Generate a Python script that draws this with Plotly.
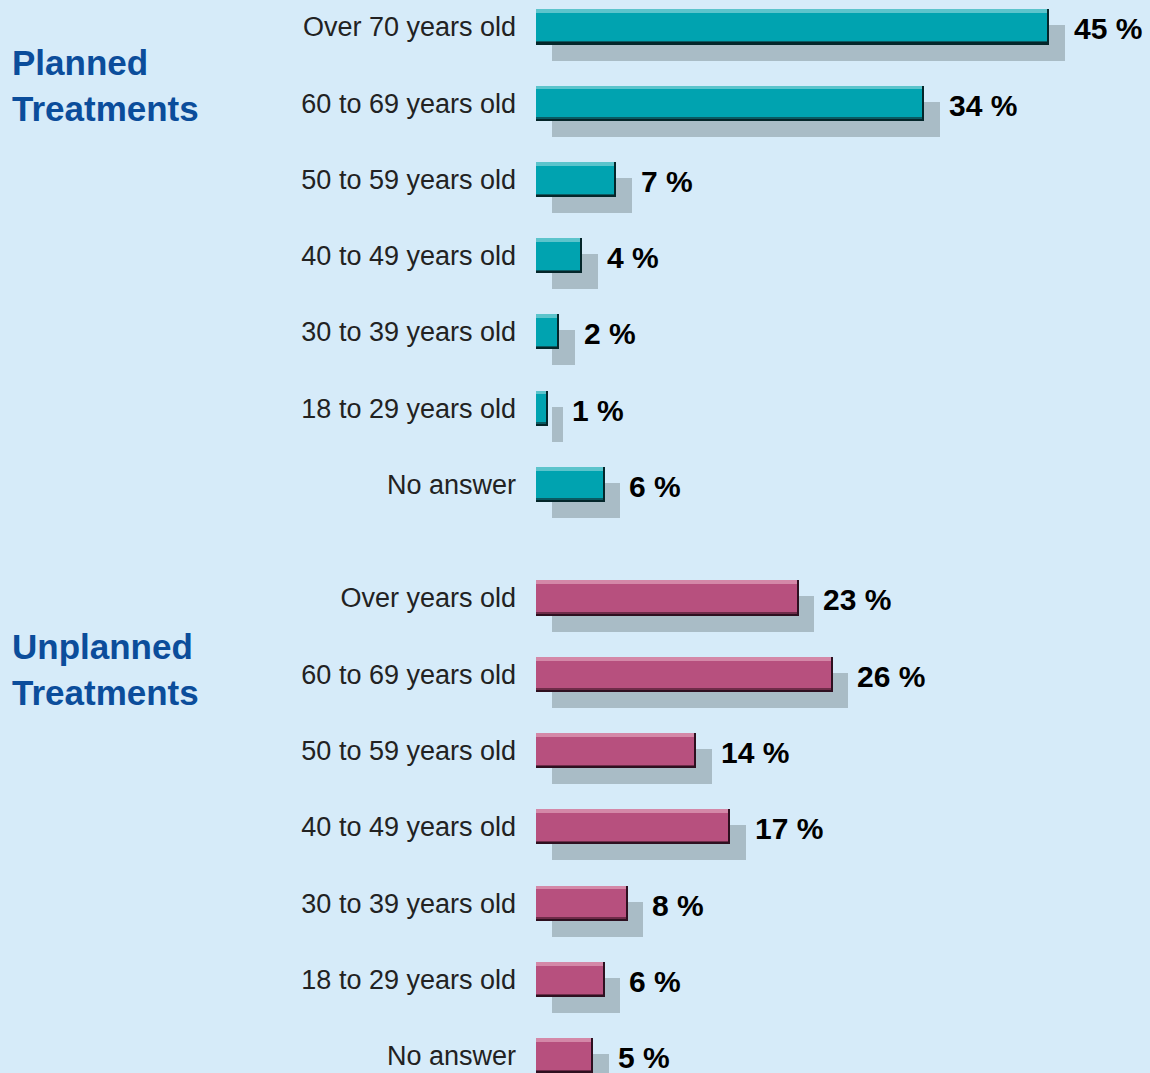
import plotly.graph_objects as go

# data
planned_labels = ["Over 70 years old", "60 to 69 years old", "50 to 59 years old",
                  "40 to 49 years old", "30 to 39 years old", "18 to 29 years old",
                  "No answer"]
planned_values = [45, 34, 7, 4, 2, 1, 6]

unplanned_labels = ["Over years old", "60 to 69 years old", "50 to 59 years old",
                    "40 to 49 years old", "30 to 39 years old", "18 to 29 years old",
                    "No answer"]
unplanned_values = [23, 26, 14, 17, 8, 6, 5]

group_titles = ["Planned<br>Treatments", "Unplanned<br>Treatments"]

W, H = 1150, 1073
BG = "#d6ebf9"
BAR_W = 0.46
SHADOW_DX = 1.4
SHADOW_DY = 0.21


def add_bars(fig, labels, values, xa, ya, color, light, dark, darker):
    kw = dict(orientation="h", y=labels, xaxis=xa, yaxis=ya,
              hoverinfo="skip", showlegend=False)
    # drop shadow
    fig.add_trace(go.Bar(x=values, base=SHADOW_DX, width=BAR_W,
                         offset=-BAR_W / 2 + SHADOW_DY,
                         marker=dict(color="#a9bcc6", line=dict(width=0)), **kw))
    # main bar
    fig.add_trace(go.Bar(x=values, width=BAR_W, offset=-BAR_W / 2,
                         marker=dict(color=color, line=dict(width=0)), **kw))
    # top highlight
    fig.add_trace(go.Bar(x=values, width=0.05, offset=-BAR_W / 2,
                         marker=dict(color=light, line=dict(width=0)), **kw))
    # bottom dark edge
    fig.add_trace(go.Bar(x=values, width=0.045, offset=BAR_W / 2 - 0.045,
                         marker=dict(color=dark, line=dict(width=0)), **kw))
    fig.add_trace(go.Bar(x=values, width=0.02, offset=BAR_W / 2 - 0.02,
                         marker=dict(color=darker, line=dict(width=0)), **kw))
    # right dark edge
    fig.add_trace(go.Bar(x=[0.1] * len(values), base=[v - 0.1 for v in values],
                         width=BAR_W, offset=-BAR_W / 2,
                         marker=dict(color=darker, line=dict(width=0)), **kw))


fig = go.Figure()
add_bars(fig, planned_labels, planned_values, "x", "y",
         "#00a3b0", "#5cc4cc", "#0a5a62", "#04262a")
add_bars(fig, unplanned_labels, unplanned_values, "x2", "y2",
         "#b7507e", "#d488a8", "#6e2c49", "#2e1020")

annotations = []
for labels, values, xr, yr in [(planned_labels, planned_values, "x", "y"),
                               (unplanned_labels, unplanned_values, "x2", "y2")]:
    for lab, v in zip(labels, values):
        annotations.append(dict(x=v, y=lab, xref=xr, yref=yr, text="%d %%" % v,
                                showarrow=False, xanchor="left", xshift=23, yshift=-2,
                                font=dict(family="Liberation Sans", size=30,
                                          color="#000000", weight="bold")))

for title, yc in zip(group_titles, [1 - 86 / H, 1 - 669 / H]):
    annotations.append(dict(x=10 / W, y=yc, xref="paper", yref="paper", text=title,
                            showarrow=False, xanchor="left", yanchor="middle",
                            align="left",
                            font=dict(family="Liberation Sans", size=35,
                                      color="#0b4d9b", weight="bold")))

x_dom = [536 / W, 1]
x_rng = [0, (W - 536) / 11.4]
yax = dict(type="category", showgrid=False, zeroline=False, showline=False,
           ticks="", ticklabelstandoff=19,
           tickfont=dict(family="Liberation Sans", size=27, color="#222222"))
xax = dict(domain=x_dom, range=x_rng, visible=False, fixedrange=True)

fig.update_layout(
    width=W, height=H,
    margin=dict(l=0, r=0, t=0, b=0),
    paper_bgcolor=BG, plot_bgcolor=BG,
    barmode="overlay", bargap=0,
    xaxis=dict(anchor="y", **xax),
    xaxis2=dict(anchor="y2", **xax),
    yaxis=dict(domain=[1 - 530 / H, 1], range=[6.60, -0.354], anchor="x",
               categoryorder="array", categoryarray=planned_labels, **yax),
    yaxis2=dict(domain=[0, 1 - 540 / H], range=[6.225, -0.76], anchor="x2",
                categoryorder="array", categoryarray=unplanned_labels, **yax),
    annotations=annotations,
)

fig.write_html("out.html", config={"displayModeBar": False},
               post_script="document.body.style.margin='0';"
                           "document.body.style.background='%s';" % BG)
